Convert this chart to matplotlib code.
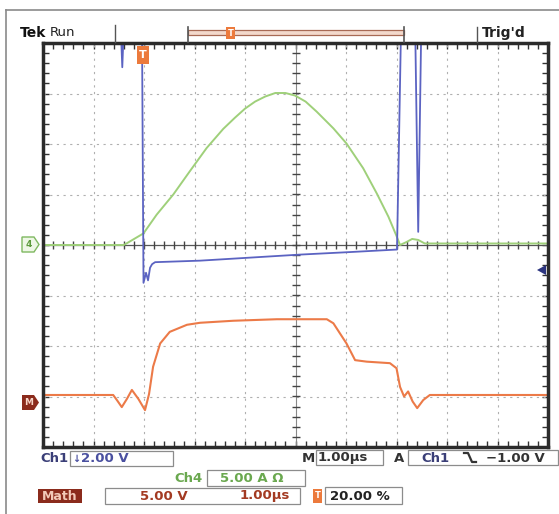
import numpy as np
import matplotlib.pyplot as plt
from matplotlib.patches import Rectangle, Polygon
from matplotlib.ticker import MultipleLocator

W, H = 559, 514

# traces in screen divisions (x: 0..10, y: -4..4); 4.3 means off screen (clipped)
ch1_t = [0.0, 1.54, 1.57, 1.60, 1.96, 1.99, 2.04, 2.08, 2.12, 2.16, 2.22,
         3.11, 4.10, 5.09, 6.08, 7.01, 7.09, 7.37, 7.43, 7.49, 10.0]
ch1_v = [4.3, 4.3, 3.52, 4.3, 4.3, -0.75, -0.55, -0.70, -0.45, -0.38, -0.34,
         -0.31, -0.25, -0.19, -0.14, -0.09, 4.3, 4.3, 0.26, 4.3, 4.3]

ch4_t = [0.0, 1.60, 1.72, 1.99, 2.25, 2.58, 2.90, 3.24, 3.57, 3.80, 4.00, 4.20,
         4.40, 4.60, 4.80, 4.99, 5.20, 5.42, 5.75, 6.01, 6.34, 6.61, 6.84, 7.00,
         7.07, 7.20, 7.31, 7.43, 7.56, 10.0]
ch4_v = [0.0, 0.0, 0.07, 0.23, 0.60, 1.00, 1.45, 1.92, 2.30, 2.52, 2.70, 2.84,
         2.94, 3.01, 3.01, 2.96, 2.84, 2.64, 2.31, 2.01, 1.52, 1.02, 0.56, 0.18,
         0.0, 0.06, 0.12, 0.10, 0.03, 0.03]

math_t = [0.0, 1.39, 1.47, 1.56, 1.66, 1.76, 1.89, 2.02, 2.10, 2.18, 2.32, 2.51,
          2.85, 3.11, 3.77, 4.63, 5.62, 5.75, 6.01, 6.18, 6.41, 6.87, 7.00, 7.07,
          7.15, 7.23, 7.32, 7.41, 7.53, 7.66, 10.0]
math_v = [-2.97, -2.97, -3.08, -3.21, -3.05, -2.87, -3.05, -3.27, -2.95, -2.41,
          -1.95, -1.72, -1.58, -1.54, -1.50, -1.47, -1.47, -1.55, -1.95, -2.28,
          -2.31, -2.34, -2.44, -2.81, -3.00, -2.90, -3.10, -3.23, -3.07, -2.97, -2.97]

BLUE = '#5b63c2'
GREEN = '#9fd07a'
ORANGE = '#ec7a48'
DARKRED = '#8b2b1c'

fig = plt.figure(figsize=(W / 100, H / 100), dpi=100)
fig.patch.set_facecolor('white')

# plot area 43..548 x 43..447 px
ax = fig.add_axes([43 / W, 1 - 447 / H, 505 / W, 404 / H])
ax.set_xlim(0, 10)
ax.set_ylim(-4, 4)
ax.xaxis.set_major_locator(MultipleLocator(1))
ax.yaxis.set_major_locator(MultipleLocator(1))
ax.xaxis.set_minor_locator(MultipleLocator(0.2))
ax.yaxis.set_minor_locator(MultipleLocator(0.2))
ax.tick_params(which='both', direction='in', top=True, right=True,
               labelbottom=False, labelleft=False, length=4, width=1, color='#333333')
for s in ax.spines.values():
    s.set_linewidth(2.5)
    s.set_color('#2b2b2b')

for gx in [1, 2, 3, 4, 6, 7, 8, 9]:
    ax.axvline(gx, color='#b0b0b0', lw=0.8, ls=(0, (2, 4)))
for gy in [-3, -2, -1, 1, 2, 3]:
    ax.axhline(gy, color='#b0b0b0', lw=0.8, ls=(0, (2, 4)))
ax.axhline(0, color='#555555', lw=0.9)
ax.axvline(5, color='#888888', lw=0.8)
ticks_x = np.arange(0, 10.01, 0.2)
ticks_y = np.arange(-4, 4.01, 0.2)
ax.plot(ticks_x, np.zeros_like(ticks_x), ls='none', marker='|', ms=6, mew=1, color='#444444')
ax.plot(np.full_like(ticks_y, 5), ticks_y, ls='none', marker='_', ms=6, mew=1, color='#444444')

ax.plot(ch4_t, ch4_v, color=GREEN, lw=1.4, solid_joinstyle='round')
ax.plot(ch1_t, ch1_v, color=BLUE, lw=1.3, solid_joinstyle='round')
ax.plot(math_t, math_v, color=ORANGE, lw=1.5, solid_joinstyle='round')

# overlay in pixel coordinates for screen furniture
ov = fig.add_axes([0, 0, 1, 1], facecolor='none')
ov.set_xlim(0, W)
ov.set_ylim(H, 0)
ov.axis('off')

ov.plot([6, W], [10, 10], color='#8a8a8a', lw=1.2)
ov.plot([6, 6], [10, H], color='#8a8a8a', lw=1.2)

# top status line
ov.text(20, 33, 'Tek', fontsize=10, fontweight='heavy', color='#111111', va='center')
ov.text(50, 33, 'Run', fontsize=9.5, color='#222222', va='center')
ov.plot([115, 115], [25, 42], color='#555555', lw=1)
ov.plot([188, 188], [27, 42], color='#555555', lw=1.2)
ov.plot([404, 404], [27, 42], color='#555555', lw=1.2)
ov.add_patch(Rectangle((188, 30), 216, 5, facecolor='#f3d9cc', edgecolor='#a86a55', lw=0.9))
ov.add_patch(Rectangle((226, 27), 9, 12, facecolor='#ec7a3c', edgecolor='none'))
ov.text(230.5, 33.5, 'T', fontsize=6, color='white', fontweight='bold', ha='center', va='center')
ov.plot([477, 477], [27, 42], color='#555555', lw=1)
ov.text(482, 33, "Trig'd", fontsize=10, fontweight='bold', color='#222222', va='center')

# trigger position marker
ov.add_patch(Rectangle((137, 46), 12, 18, facecolor='#ec7a3c', edgecolor='none'))
ov.text(143, 55, 'T', fontsize=8, color='white', fontweight='bold', ha='center', va='center')

# channel markers on the left / trigger level on the right
ov.add_patch(Polygon([(22, 237), (34, 237), (39, 244.5), (34, 252), (22, 252)],
                     facecolor='#eef7e6', edgecolor='#7fb860', lw=1))
ov.text(29, 244.5, '4', fontsize=6.5, color='#5c9a3c', fontweight='bold', ha='center', va='center')
ov.add_patch(Polygon([(22, 395), (34, 395), (39, 402.5), (34, 410), (22, 410)],
                     facecolor=DARKRED, edgecolor='none'))
ov.text(29, 402.5, 'M', fontsize=6.5, color='#f6d5c8', fontweight='bold', ha='center', va='center')
ov.add_patch(Polygon([(537, 270), (546, 265), (546, 275)], facecolor='#2c3580', edgecolor='none'))

# bottom readouts
box = dict(facecolor='none', edgecolor='#8c8c8c', lw=0.9)
ov.add_patch(Rectangle((70, 451), 103, 15, **box))
ov.text(40, 458.5, 'Ch1', fontsize=9.5, fontweight='bold', color='#3b3f78', va='center')
ov.text(72, 458.5, '\u2193', fontsize=7, fontweight='bold', color='#4a50a0', va='center')
ov.text(81, 458.5, '2.00 V', fontsize=9.5, fontweight='bold', color='#4a50a0', va='center')

ov.add_patch(Rectangle((316, 450), 67, 15, **box))
ov.text(302, 458, 'M', fontsize=9.5, fontweight='bold', color='#333333', va='center')
ov.text(318, 458, '1.00\u00b5s', fontsize=9.5, fontweight='bold', color='#333333', va='center')
ov.text(394, 458, 'A', fontsize=9.5, fontweight='bold', color='#333333', va='center')
ov.add_patch(Rectangle((408, 450), 150, 15, **box))
ov.text(421, 458, 'Ch1', fontsize=9.5, fontweight='bold', color='#3b3f78', va='center')
ov.plot([464, 468, 472, 476], [453, 453, 462, 462], color='#333333', lw=1.6)
ov.text(486, 458, '\u22121.00 V', fontsize=9.5, fontweight='bold', color='#333333', va='center')

ov.add_patch(Rectangle((207, 470), 98, 16, **box))
ov.text(174, 478, 'Ch4', fontsize=9.5, fontweight='bold', color='#6aa84f', va='center')
ov.text(220, 478, '5.00 A \u03a9', fontsize=9.5, fontweight='bold', color='#6aa84f', va='center')

ov.add_patch(Rectangle((38, 489), 44, 14, facecolor=DARKRED, edgecolor='none'))
ov.text(60, 496, 'Math', fontsize=9, fontweight='bold', color='#f3c9b8', ha='center', va='center')
ov.add_patch(Rectangle((105, 488), 195, 16, **box))
ov.text(140, 496, '5.00 V', fontsize=9.5, fontweight='bold', color='#a33a22', va='center')
ov.text(240, 496, '1.00\u00b5s', fontsize=9.5, fontweight='bold', color='#a33a22', va='center')
ov.add_patch(Rectangle((313, 489), 9, 14, facecolor='#ec7a3c', edgecolor='none'))
ov.text(317.5, 496, 'T', fontsize=6, color='white', fontweight='bold', ha='center', va='center')
ov.add_patch(Rectangle((325, 487), 77, 17, **box))
ov.text(330, 496, '20.00 %', fontsize=9.5, fontweight='bold', color='#222222', va='center')

fig.savefig('out.png', dpi=100)
